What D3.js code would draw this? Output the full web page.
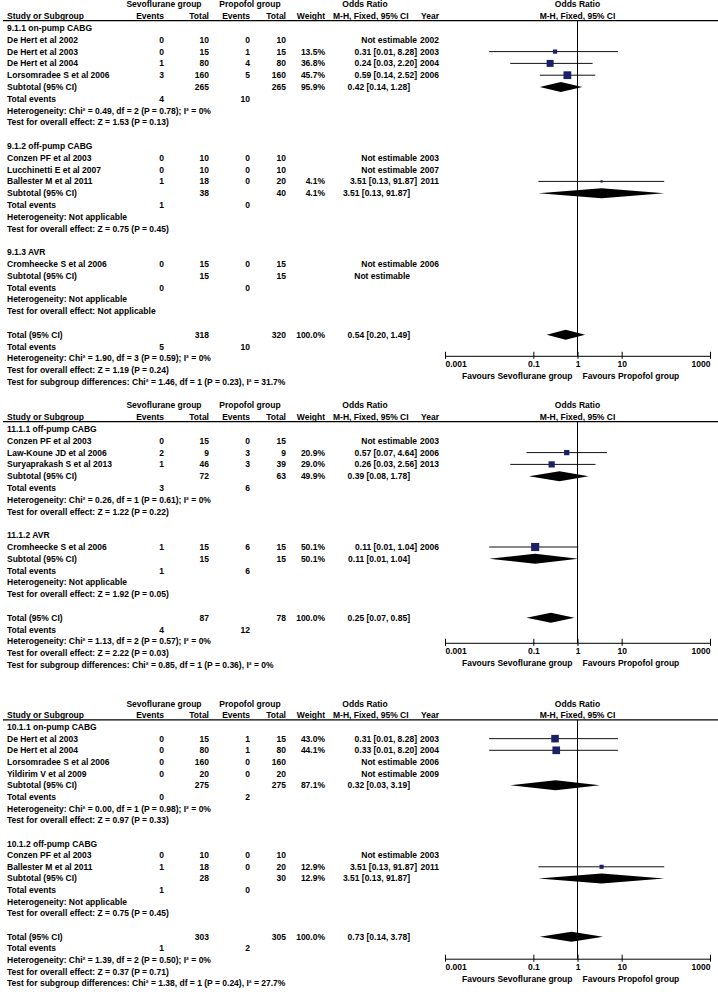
<!DOCTYPE html>
<html>
<head>
<meta charset="utf-8">
<script src="https://cdn.jsdelivr.net/npm/d3@7"></script>
<style>
    body { margin: 0; background: #fff; }
    svg text { font-family: "Liberation Sans", Arial, sans-serif; font-weight: bold; font-size: 8.5px; fill: #000; }
</style>
</head>
<body>
<div id="chart"></div>
<script>
"use strict";

// study rows: [name, sevo events, sevo total, propofol events, propofol total, weight %, OR, lower, upper, year]
// subtotal rows: [sevo total, propofol total, weight %, OR, lower, upper, sevo events, propofol events]

// ---- Analysis 9.1 ----
const a9_onpump = [
    ["De Hert et al 2002", 0, 10, 0, 10, null, null, null, null, 2002],
    ["De Hert et al 2003", 0, 15, 1, 15, 13.5, 0.31, 0.01, 8.28, 2003],
    ["De Hert et al 2004", 1, 80, 4, 80, 36.8, 0.24, 0.03, 2.20, 2004],
    ["Lorsomradee S et al 2006", 3, 160, 5, 160, 45.7, 0.59, 0.14, 2.52, 2006],
];
const a9_onpump_sub = [265, 265, 95.9, 0.42, 0.14, 1.28, 4, 10];
const a9_onpump_notes = ["Heterogeneity: Chi² = 0.49, df = 2 (P = 0.78); I² = 0%", "Test for overall effect: Z = 1.53 (P = 0.13)"];

const a9_offpump = [
    ["Conzen PF et al 2003", 0, 10, 0, 10, null, null, null, null, 2003],
    ["Lucchinetti E et al 2007", 0, 10, 0, 10, null, null, null, null, 2007],
    ["Ballester M et al 2011", 1, 18, 0, 20, 4.1, 3.51, 0.13, 91.87, 2011],
];
const a9_offpump_sub = [38, 40, 4.1, 3.51, 0.13, 91.87, 1, 0];
const a9_offpump_notes = ["Heterogeneity: Not applicable", "Test for overall effect: Z = 0.75 (P = 0.45)"];

const a9_avr = [
    ["Cromheecke S et al 2006", 0, 15, 0, 15, null, null, null, null, 2006],
];
const a9_avr_sub = [15, 15, null, null, null, null, 0, 0];
const a9_avr_notes = ["Heterogeneity: Not applicable", "Test for overall effect: Not applicable"];

const a9_total = [318, 320, 100.0, 0.54, 0.20, 1.49, 5, 10];
const a9_total_notes = [
    "Heterogeneity: Chi² = 1.90, df = 3 (P = 0.59); I² = 0%",
    "Test for overall effect: Z = 1.19 (P = 0.24)",
    "Test for subgroup differences: Chi² = 1.46, df = 1 (P = 0.23), I² = 31.7%",
];

// ---- Analysis 11.1 ----
const a11_offpump = [
    ["Conzen PF et al 2003", 0, 15, 0, 15, null, null, null, null, 2003],
    ["Law-Koune JD et al 2006", 2, 9, 3, 9, 20.9, 0.57, 0.07, 4.64, 2006],
    ["Suryaprakash S et al 2013", 1, 46, 3, 39, 29.0, 0.26, 0.03, 2.56, 2013],
];
const a11_offpump_sub = [72, 63, 49.9, 0.39, 0.08, 1.78, 3, 6];
const a11_offpump_notes = ["Heterogeneity: Chi² = 0.26, df = 1 (P = 0.61); I² = 0%", "Test for overall effect: Z = 1.22 (P = 0.22)"];

const a11_avr = [
    ["Cromheecke S et al 2006", 1, 15, 6, 15, 50.1, 0.11, 0.01, 1.04, 2006],
];
const a11_avr_sub = [15, 15, 50.1, 0.11, 0.01, 1.04, 1, 6];
const a11_avr_notes = ["Heterogeneity: Not applicable", "Test for overall effect: Z = 1.92 (P = 0.05)"];

const a11_total = [87, 78, 100.0, 0.25, 0.07, 0.85, 4, 12];
const a11_total_notes = [
    "Heterogeneity: Chi² = 1.13, df = 2 (P = 0.57); I² = 0%",
    "Test for overall effect: Z = 2.22 (P = 0.03)",
    "Test for subgroup differences: Chi² = 0.85, df = 1 (P = 0.36), I² = 0%",
];

// ---- Analysis 10.1 ----
const a10_onpump = [
    ["De Hert et al 2003", 0, 15, 1, 15, 43.0, 0.31, 0.01, 8.28, 2003],
    ["De Hert et al 2004", 0, 80, 1, 80, 44.1, 0.33, 0.01, 8.20, 2004],
    ["Lorsomradee S et al 2006", 0, 160, 0, 160, null, null, null, null, 2006],
    ["Yildirim V et al 2009", 0, 20, 0, 20, null, null, null, null, 2009],
];
const a10_onpump_sub = [275, 275, 87.1, 0.32, 0.03, 3.19, 0, 2];
const a10_onpump_notes = ["Heterogeneity: Chi² = 0.00, df = 1 (P = 0.98); I² = 0%", "Test for overall effect: Z = 0.97 (P = 0.33)"];

const a10_offpump = [
    ["Conzen PF et al 2003", 0, 10, 0, 10, null, null, null, null, 2003],
    ["Ballester M et al 2011", 1, 18, 0, 20, 12.9, 3.51, 0.13, 91.87, 2011],
];
const a10_offpump_sub = [28, 30, 12.9, 3.51, 0.13, 91.87, 1, 0];
const a10_offpump_notes = ["Heterogeneity: Not applicable", "Test for overall effect: Z = 0.75 (P = 0.45)"];

const a10_total = [303, 305, 100.0, 0.73, 0.14, 3.78, 1, 2];
const a10_total_notes = [
    "Heterogeneity: Chi² = 1.39, df = 2 (P = 0.50); I² = 0%",
    "Test for overall effect: Z = 0.37 (P = 0.71)",
    "Test for subgroup differences: Chi² = 1.38, df = 1 (P = 0.24), I² = 27.7%",
];

const TICKS = [0.001, 0.1, 1, 10, 1000];
const TICK_LABELS = ["0.001", "0.1", "1", "10", "1000"];
const FAVOURS = ["Favours Sevoflurane group", "Favours Propofol group"];

const panels = [
    {
        top: 28, pitch: 11.8, axisGap: 21,
        groups: [
            { title: "9.1.1 on-pump CABG", studies: a9_onpump, sub: a9_onpump_sub, notes: a9_onpump_notes },
            { title: "9.1.2 off-pump CABG", studies: a9_offpump, sub: a9_offpump_sub, notes: a9_offpump_notes },
            { title: "9.1.3 AVR", studies: a9_avr, sub: a9_avr_sub, notes: a9_avr_notes },
        ],
        total: a9_total, notes: a9_total_notes,
    },
    {
        top: 429, pitch: 11.8, axisGap: 25,
        groups: [
            { title: "11.1.1 off-pump CABG", studies: a11_offpump, sub: a11_offpump_sub, notes: a11_offpump_notes },
            { title: "11.1.2 AVR", studies: a11_avr, sub: a11_avr_sub, notes: a11_avr_notes },
        ],
        total: a11_total, notes: a11_total_notes,
    },
    {
        top: 727, pitch: 11.65, axisGap: 22,
        groups: [
            { title: "10.1.1 on-pump CABG", studies: a10_onpump, sub: a10_onpump_sub, notes: a10_onpump_notes },
            { title: "10.1.2 off-pump CABG", studies: a10_offpump, sub: a10_offpump_sub, notes: a10_offpump_notes },
        ],
        total: a10_total, notes: a10_total_notes,
    },
];

// layout
const W = 718, H = 992;
const COL = { name: 7, e1: 164, n1: 209, e2: 250, n2: 286, w: 325, or: 417, orSum: 410, year: 439 };
const NAVY = "#1b2068";

const x = d3.scaleLog().domain([0.001, 1000]).range([445, 710]);
const sq = d3.scaleSqrt().domain([0, 100]).range([0, 11.5]);
const f2 = d3.format(".2f");
const f1 = d3.format(".1f");
const orText = (or, lo, hi) => or == null ? "Not estimable" : `${f2(or)} [${f2(lo)}, ${f2(hi)}]`;

const svg = d3.select("#chart").append("svg")
    .attr("width", W)
    .attr("height", H);

function txt(g, xPos, y, s, anchor) {
    return g.append("text")
        .attr("x", xPos)
        .attr("y", y + 3)
        .attr("text-anchor", anchor || "start")
        .text(s);
}

function diamond(g, y, or, lo, hi) {
    const h = 5;
    g.append("path")
        .attr("d", `M${x(lo)},${y} L${x(or)},${y - h} L${x(hi)},${y} L${x(or)},${y + h} Z`)
        .attr("fill", "#000");
}

function drawPanel(p) {
    const g = svg.append("g");
    const rowY = (r) => p.top + r * p.pitch;

    // headers
    const h1 = rowY(-2), h2 = rowY(-1);
    txt(g, 164, h1, "Sevoflurane group", "middle");
    txt(g, 250, h1, "Propofol group", "middle");
    txt(g, 365, h1, "Odds Ratio", "middle");
    txt(g, x(1), h1, "Odds Ratio", "middle");
    txt(g, COL.name, h2, "Study or Subgroup");
    txt(g, COL.e1, h2, "Events", "end");
    txt(g, COL.n1, h2, "Total", "end");
    txt(g, COL.e2, h2, "Events", "end");
    txt(g, COL.n2, h2, "Total", "end");
    txt(g, COL.w, h2, "Weight", "end");
    txt(g, 333, h2, "M-H, Fixed, 95% CI");
    txt(g, COL.year, h2, "Year", "end");
    txt(g, x(1), h2, "M-H, Fixed, 95% CI", "middle");
    const lineY = h2 + 4.5;
    g.append("line")
        .attr("x1", 3).attr("x2", W)
        .attr("y1", lineY).attr("y2", lineY)
        .attr("stroke", "#000").attr("stroke-width", 1.2);

    let r = 0;
    const marks = g.append("g");
    for (const grp of p.groups) {
        txt(g, COL.name, rowY(r++), grp.title);
        for (const s of grp.studies) {
            const y = rowY(r++);
            txt(g, COL.name, y, s[0]);
            txt(g, COL.e1, y, s[1], "end");
            txt(g, COL.n1, y, s[2], "end");
            txt(g, COL.e2, y, s[3], "end");
            txt(g, COL.n2, y, s[4], "end");
            if (s[5] != null) txt(g, COL.w, y, f1(s[5]) + "%", "end");
            txt(g, COL.or, y, orText(s[6], s[7], s[8]), "end");
            txt(g, COL.year, y, s[9], "end");
            if (s[6] != null) {
                marks.append("line")
                    .attr("x1", x(s[7])).attr("x2", x(s[8]))
                    .attr("y1", y).attr("y2", y)
                    .attr("stroke", "#111");
                const side = sq(s[5]);
                marks.append("rect")
                    .attr("x", x(s[6]) - side / 2).attr("y", y - side / 2)
                    .attr("width", side).attr("height", side)
                    .attr("fill", NAVY);
            }
        }
        const sub = grp.sub;
        let y = rowY(r++);
        txt(g, COL.name, y, "Subtotal (95% CI)");
        txt(g, COL.n1, y, sub[0], "end");
        txt(g, COL.n2, y, sub[1], "end");
        if (sub[2] != null) txt(g, COL.w, y, f1(sub[2]) + "%", "end");
        txt(g, COL.orSum, y, orText(sub[3], sub[4], sub[5]), "end");
        if (sub[3] != null) diamond(marks, y, sub[3], sub[4], sub[5]);
        y = rowY(r++);
        txt(g, COL.name, y, "Total events");
        txt(g, COL.e1, y, sub[6], "end");
        txt(g, COL.e2, y, sub[7], "end");
        for (const n of grp.notes) txt(g, COL.name, rowY(r++), n);
        r++;
    }

    const t = p.total;
    let y = rowY(r++);
    const totalY = y;
    txt(g, COL.name, y, "Total (95% CI)");
    txt(g, COL.n1, y, t[0], "end");
    txt(g, COL.n2, y, t[1], "end");
    txt(g, COL.w, y, f1(t[2]) + "%", "end");
    txt(g, COL.orSum, y, orText(t[3], t[4], t[5]), "end");
    diamond(marks, y, t[3], t[4], t[5]);
    y = rowY(r++);
    txt(g, COL.name, y, "Total events");
    txt(g, COL.e1, y, t[6], "end");
    txt(g, COL.e2, y, t[7], "end");
    for (const n of p.notes) txt(g, COL.name, rowY(r++), n);

    // axis
    const axisY = totalY + p.axisGap;
    const ax = g.append("g")
        .attr("transform", `translate(0,${axisY})`)
        .call(d3.axisBottom(x)
            .tickValues(TICKS)
            .tickFormat((d, i) => TICK_LABELS[i])
            .tickSizeInner(-4)
            .tickSizeOuter(0)
            .tickPadding(5));
    ax.select(".domain").attr("stroke", "#000");
    ax.selectAll(".tick line").attr("y1", 3).attr("stroke", "#000");
    ax.selectAll(".tick text")
        .attr("text-anchor", (d, i) => i === 0 ? "start" : i === TICKS.length - 1 ? "end" : "middle");

    txt(g, x(1) - 5, axisY + 20, FAVOURS[0], "end");
    txt(g, x(1) + 5, axisY + 20, FAVOURS[1], "start");

    // line of no effect
    g.append("line")
        .attr("x1", x(1)).attr("x2", x(1))
        .attr("y1", lineY).attr("y2", axisY)
        .attr("stroke", "#000");
}

panels.forEach(drawPanel);
</script>
</body>
</html>
